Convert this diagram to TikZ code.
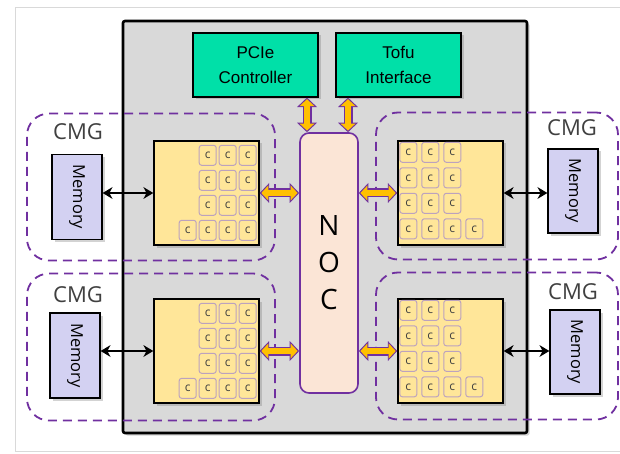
\documentclass[tikz,border=0pt]{standalone}
\usepackage{fontspec}
\setmainfont{Liberation Sans}
\newfontfamily\segoe{Open Sans}
\usetikzlibrary{arrows.meta,shadows,calc}

\definecolor{chipgray}{HTML}{D9D9D9}
\definecolor{ctrlgreen}{HTML}{00E0A8}
\definecolor{coreyellow}{HTML}{FFE699}
\definecolor{nocpink}{HTML}{FBE5D6}
\definecolor{memlilac}{HTML}{D3D1F2}
\definecolor{cmgpurple}{HTML}{7030A0}
\definecolor{busorange}{HTML}{FFC000}
\definecolor{coreedge}{HTML}{BCA2BE}

\begin{document}
\begin{tikzpicture}[x=1pt,y=-1pt,
    softshadow/.style={drop shadow={opacity=.35,shadow xshift=2.5pt,shadow yshift=-2.5pt}},
    chip/.style={draw,line width=2.6pt,fill=chipgray,rounded corners=2pt,inner sep=0pt,softshadow},
    ctrl/.style={draw,line width=1.2pt,fill=ctrlgreen,inner sep=0pt,minimum width=125pt,minimum height=64pt,
      align=center,font=\fontsize{17}{25}\selectfont,softshadow},
    block/.style={draw,line width=1.4pt,fill=coreyellow,inner sep=0pt,minimum width=105pt,minimum height=104pt,softshadow},
    core/.style={draw=coreedge,line width=1pt,fill=coreyellow,rounded corners=2.5pt,inner sep=0pt,
      minimum width=17pt,minimum height=20pt,text=black!75,font=\segoe\fontsize{12}{12}\selectfont},
    mem/.style={draw,line width=1.2pt,fill=memlilac,inner sep=0pt,minimum width=50pt,minimum height=85pt,
      font=\segoe\fontsize{16.5}{16.5}\selectfont,softshadow},
    cmg/.style={draw=cmgpurple,line width=1.8pt,dash pattern=on 9pt off 6pt,rounded corners=22pt,inner sep=0pt,
      minimum width=248pt,minimum height=147pt},
    cmglabel/.style={text=black!75,font=\segoe\fontsize{22}{22}\selectfont},
    fatarrow/.style={busorange,line width=6pt,shorten <=1.6pt,shorten >=1.6pt,
      {Triangle[width=15pt,length=7pt,line width=0pt]}-{Triangle[width=15pt,length=7pt,line width=0pt]},
      preaction={draw=cmgpurple,line width=9pt,shorten <=0pt,shorten >=0pt,
        arrows={Triangle[width=20pt,length=9.5pt,line width=0pt]-Triangle[width=20pt,length=9.5pt,line width=0pt]}}},
    memlink/.style={line width=2pt,{Stealth[length=10pt,width=12pt,line width=0pt]}-{Stealth[length=10pt,width=12pt,line width=0pt]}}]
  \useasboundingbox (0,0) rectangle (620,454);
  \clip (0,0) rectangle (620,454);
  \draw[gray!30,line width=1pt] (15,8) rectangle (640,451);

  % the chip and its four CMGs
  \path (325,227) node[chip,minimum width=404pt,minimum height=412pt] (chip){};
  \path
    (151,187) node[cmg] (cmgUL){}
    (151,347) node[cmg] (cmgLL){}
    (497,186) node[cmg,minimum width=242pt] (cmgUR){}
    (497,346) node[cmg,minimum width=242pt] (cmgLR){};
  \path
    (78,132) node[cmglabel] (lblUL){CMG}
    (78,295) node[cmglabel] (lblLL){CMG}
    (572,128) node[cmglabel] (lblUR){CMG}
    (573,292) node[cmglabel] (lblLR){CMG};

  \path
    (255.5,65) node[ctrl] (pcie){PCIe\\Controller}
    (398.5,65) node[ctrl] (tofu){Tofu\\Interface};
  \path (329,263) node[draw=cmgpurple,line width=1.6pt,fill=nocpink,rounded corners=9pt,inner sep=0pt,
    minimum width=58pt,minimum height=260pt,align=center,font=\segoe\fontsize{28}{37}\selectfont] (noc){N\\O\\C};

  % core blocks
  \path
    (206.5,193) node[block] (coreUL){}
    (206.5,351) node[block] (coreLL){}
    (450.5,193) node[block] (coreUR){}
    (450.5,351) node[block] (coreLR){};
  \foreach \blk in {coreUL,coreLL} {
    \foreach \r in {0,...,3}
      \foreach \c in {0,1,2}
        \node[core] (\blk-\r-\c) at ($(\blk.north east)+(-12-20*\c,15+25*\r)$) {c};
    \node[core] (\blk-3-3) at ($(\blk.north east)+(-72,90)$) {c};
  }
  \foreach \blk in {coreUR,coreLR} {
    \foreach \r in {0,...,3}
      \foreach \c in {0,1,2}
        \node[core] (\blk-\r-\c) at ($(\blk.north west)+(11+22*\c,12+25.5*\r)$) {c};
    \node[core] (\blk-3-3) at ($(\blk.north west)+(77,88.5)$) {c};
  }

  % memories
  \path
    (77,197) node[mem] (memUL){\rotatebox{-90}{Memory}}
    (75,355.5) node[mem] (memLL){\rotatebox{-90}{Memory}}
    (573,191) node[mem,minimum height=84pt] (memUR){\rotatebox{-90}{Memory}}
    (575,352) node[mem,minimum height=84pt] (memLR){\rotatebox{-90}{Memory}};

  % links
  \begin{scope}
    \draw[fatarrow] ([xshift=-22pt]noc.north) -- ([xshift=-22pt]noc.north |- pcie.south);
    \draw[fatarrow] ([xshift=19pt]noc.north) -- ([xshift=19pt]noc.north |- tofu.south);
    \draw[fatarrow] (coreUL.east) -- (coreUL.east -| noc.west);
    \draw[fatarrow] (coreLL.east) -- (coreLL.east -| noc.west);
    \draw[fatarrow] (noc.east |- coreUR.west) -- (coreUR.west);
    \draw[fatarrow] (noc.east |- coreLR.west) -- (coreLR.west);
  \end{scope}
  \begin{scope}
    \draw[memlink] (memUL.east |- coreUL.west) -- (coreUL.west);
    \draw[memlink] (memLL.east |- coreLL.west) -- (coreLL.west);
    \draw[memlink] (coreUR.east) -- (coreUR.east -| memUR.west);
    \draw[memlink] (coreLR.east) -- (coreLR.east -| memLR.west);
  \end{scope}
\end{tikzpicture}
\end{document}
